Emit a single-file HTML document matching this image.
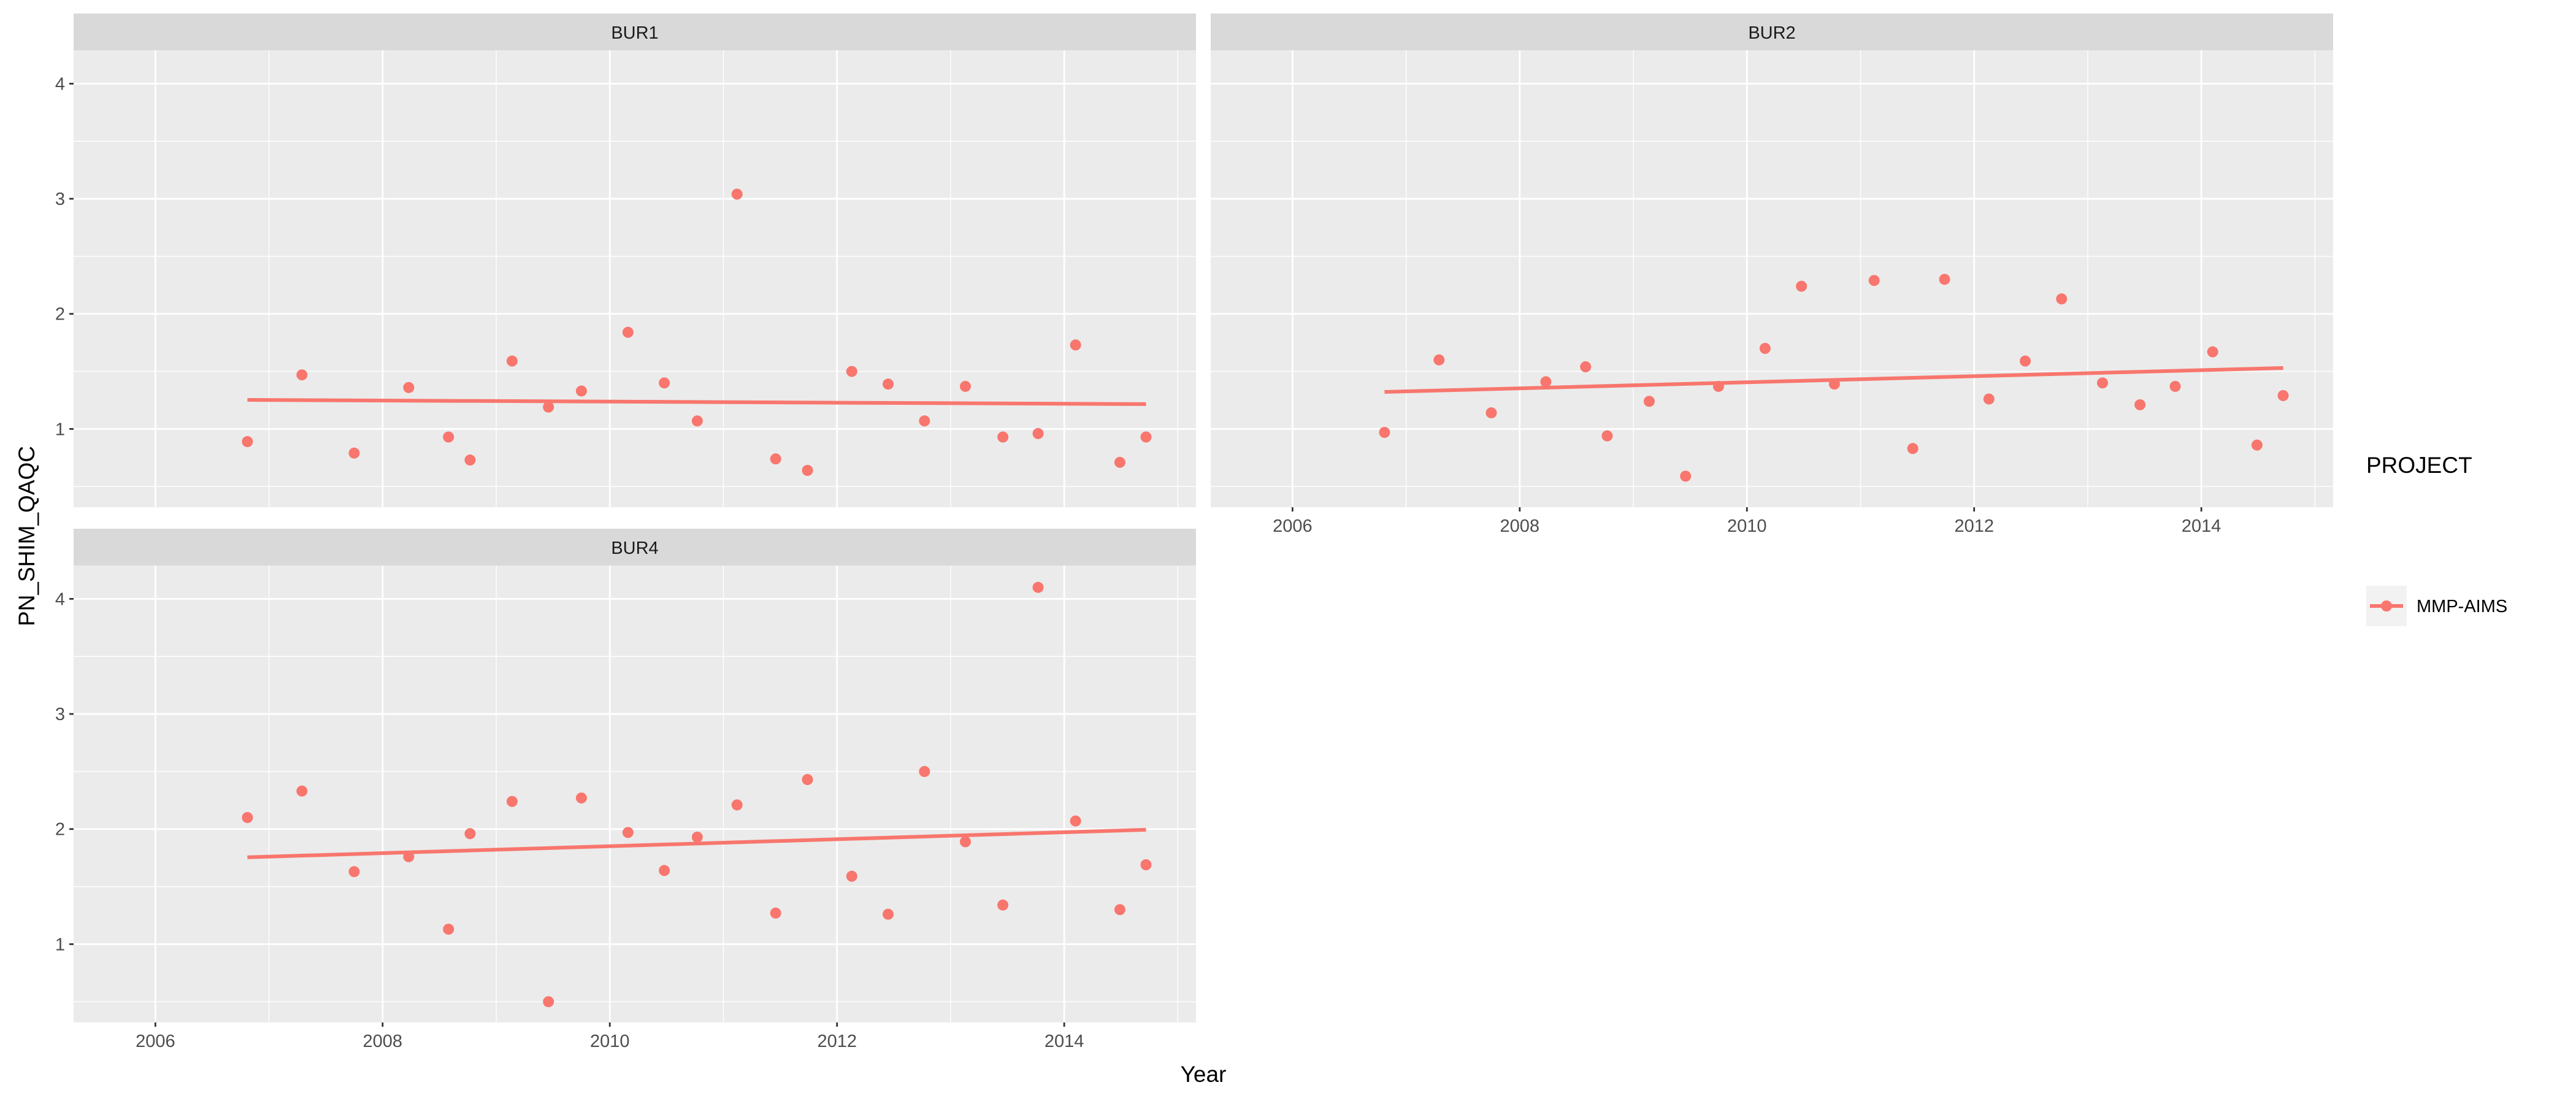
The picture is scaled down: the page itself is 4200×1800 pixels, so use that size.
<!DOCTYPE html>
<html><head><meta charset="utf-8"><style>
html,body{margin:0;padding:0;background:#fff;}
svg{display:block;font-family:"Liberation Sans",sans-serif;}
</style></head><body>
<svg id="chart" width="4200" height="1800" viewBox="0 0 4200 1800" xmlns="http://www.w3.org/2000/svg"></svg>
<script>
const dates = [2006.81,2007.29,2007.75,2008.23,2008.58,2008.77,2009.14,2009.46,2009.75,2010.16,2010.48,2010.77,2011.12,2011.46,2011.74,2012.13,2012.45,2012.77,2013.13,2013.46,2013.77,2014.10,2014.49,2014.72];
const bur1 = [0.89,1.47,0.79,1.36,0.93,0.73,1.59,1.19,1.33,1.84,1.40,1.07,3.04,0.74,0.64,1.50,1.39,1.07,1.37,0.93,0.96,1.73,0.71,0.93];
const bur2 = [0.97,1.60,1.14,1.41,1.54,0.94,1.24,0.59,1.37,1.70,2.24,1.39,2.29,0.83,2.30,1.26,1.59,2.13,1.40,1.21,1.37,1.67,0.86,1.29];
const bur4 = [2.10,2.33,1.63,1.76,1.13,1.96,2.24,0.50,2.27,1.97,1.64,1.93,2.21,1.27,2.43,1.59,1.26,2.50,1.89,1.34,4.10,2.07,1.30,1.69];
const xTicks = [2006,2008,2010,2012,2014];
const xMinor = [2007,2009,2011,2013,2015];
const yTicks = [1,2,3,4];
const yMinor = [0.5,1.5,2.5,3.5];
const panelNames = ["BUR1","BUR2","BUR4"];

const NS="http://www.w3.org/2000/svg";
const svg=document.getElementById('chart');
function mk(tag,attrs,parent){const e=document.createElementNS(NS,tag);for(const k in attrs)e.setAttribute(k,attrs[k]);(parent||svg).appendChild(e);return e;}
const XMIN=2005.28,XMAX=2015.16,YMIN=0.32,YMAX=4.29;
const PW=1830,PH=745;
const panels=[
 {name:panelNames[0],data:bur1,x0:120,y0:82,yAxis:true,xAxis:false},
 {name:panelNames[1],data:bur2,x0:1974,y0:82,yAxis:false,xAxis:true},
 {name:panelNames[2],data:bur4,x0:120,y0:922,yAxis:true,xAxis:true}
];
panels.forEach(p=>{
 const sx=v=>p.x0+(v-XMIN)/(XMAX-XMIN)*PW;
 const sy=v=>p.y0+PH-(v-YMIN)/(YMAX-YMIN)*PH;
 const g=mk('g',{});
 
 
 const strip=mk('rect',{x:p.x0,y:p.y0-60,width:PW,height:60,fill:'#d9d9d9'},g);
 
 
 const st=mk('text',{x:p.x0+PW/2,y:p.y0-19,'font-size':29,fill:'#1a1a1a','text-anchor':'middle'},g);
 st.textContent=p.name;
 
 
 const bg=mk('rect',{x:p.x0,y:p.y0,width:PW,height:PH,fill:'#ebebeb'},g);
 
 
 xMinor.forEach(v=>{if(v<XMAX)mk('line',{x1:sx(v),x2:sx(v),y1:p.y0,y2:p.y0+PH,stroke:'#fff','stroke-width':1.4},g);});
 yMinor.forEach(v=>{mk('line',{x1:p.x0,x2:p.x0+PW,y1:sy(v),y2:sy(v),stroke:'#fff','stroke-width':1.4},g);});
 xTicks.forEach(v=>{mk('line',{x1:sx(v),x2:sx(v),y1:p.y0,y2:p.y0+PH,stroke:'#fff','stroke-width':2.8},g);
   if(p.xAxis){mk('line',{x1:sx(v),x2:sx(v),y1:p.y0+PH,y2:p.y0+PH+7,stroke:'#333','stroke-width':2.8},g);
     const t=mk('text',{x:sx(v),y:p.y0+PH+40,'font-size':29,fill:'#4d4d4d','text-anchor':'middle'},g);
     t.textContent=v;
     
     }});
 yTicks.forEach(v=>{mk('line',{x1:p.x0,x2:p.x0+PW,y1:sy(v),y2:sy(v),stroke:'#fff','stroke-width':2.8},g);
   if(p.yAxis){mk('line',{x1:p.x0-7,x2:p.x0,y1:sy(v),y2:sy(v),stroke:'#333','stroke-width':2.8},g);
     const t=mk('text',{x:p.x0-14,y:sy(v)+10,'font-size':29,fill:'#4d4d4d','text-anchor':'end'},g);
     t.textContent=v;
     
     }});
 // least squares fit
 const n=dates.length;let mx=0,my=0;for(let i=0;i<n;i++){mx+=dates[i];my+=p.data[i];}mx/=n;my/=n;
 let sxy=0,sxx=0;for(let i=0;i<n;i++){sxy+=(dates[i]-mx)*(p.data[i]-my);sxx+=(dates[i]-mx)**2;}
 const b=sxy/sxx,a=my-b*mx;const xa=dates[0],xb=dates[n-1];
 p.data.forEach((v,i)=>{const c=mk('circle',{cx:sx(dates[i]),cy:sy(v),r:9,fill:'#f8766d'},g);
   
   });
 const ln=mk('line',{x1:sx(xa),y1:sy(a+b*xa),x2:sx(xb),y2:sy(a+b*xb),stroke:'#f8766d','stroke-width':6},g);
 
 
});
</script>
<svg style="position:absolute;left:0;top:0" width="4200" height="1800">
<text x="1962" y="1764" font-size="37" fill="#000" text-anchor="middle" font-family="Liberation Sans, sans-serif">Year</text>
<text transform="translate(56,874) rotate(-90)" font-size="37" fill="#000" text-anchor="middle" font-family="Liberation Sans, sans-serif">PN_SHIM_QAQC</text>
<g>
<text x="3858" y="771" font-size="37" fill="#000" font-family="Liberation Sans, sans-serif">PROJECT</text>
<rect x="3858" y="955" width="66" height="66" fill="#f2f2f2"/>
<line x1="3864" x2="3918" y1="988" y2="988" stroke="#f8766d" stroke-width="6"/>
<circle cx="3891" cy="988" r="9" fill="#f8766d"/>
<text x="3940" y="998" font-size="29" fill="#000" font-family="Liberation Sans, sans-serif">MMP-AIMS</text>
</g>
</svg>
</body></html>
